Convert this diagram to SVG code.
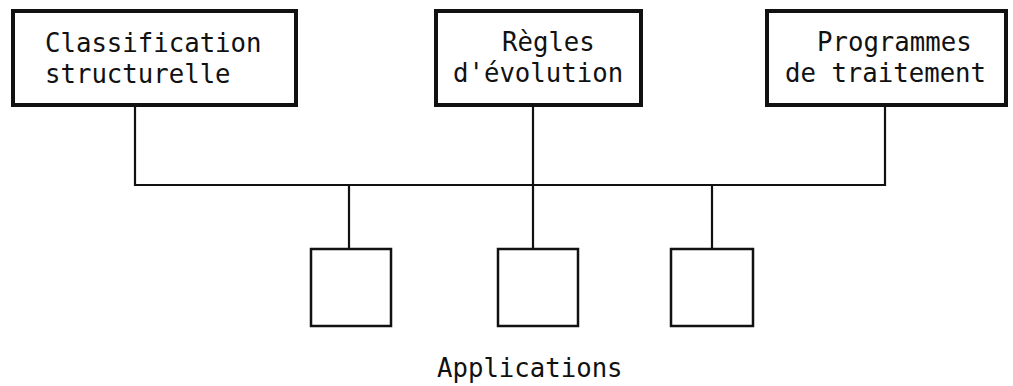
<svg xmlns="http://www.w3.org/2000/svg" width="1013" height="386" viewBox="0 0 1013 386">
<style>
.big{fill:#fff;stroke:#111;stroke-width:4}
.app{fill:#fff;stroke:#111;stroke-width:2.5}
.t{font-family:"DejaVu Sans Mono","Liberation Mono",monospace;font-size:25.7px;fill:#111}
.c{fill:none;stroke:#111;stroke-width:2.2}
</style>
<rect width="1013" height="386" fill="#fff"/>
<g id="connectors">
<path class="c" d="M135 105V185H885V105"/>
<path class="c" d="M533 105V249"/>
<path class="c" d="M349 185V249"/>
<path class="c" d="M712 185V249"/>
</g>
<g id="classification">
<rect class="big" x="13" y="11" width="283" height="94"/>
<text class="t" x="45" y="52">Classification</text>
<text class="t" x="45" y="83">structurelle</text>
</g>
<g id="regles">
<rect class="big" x="436" y="11" width="205" height="94"/>
<text class="t" x="502" y="51">Règles</text>
<text class="t" x="453" y="82">d'évolution</text>
</g>
<g id="programmes">
<rect class="big" x="767" y="11" width="239" height="94"/>
<text class="t" x="817" y="51">Programmes</text>
<text class="t" x="785" y="82">de traitement</text>
</g>
<g id="app1"><rect class="app" x="311" y="249" width="80" height="77"/></g>
<g id="app2"><rect class="app" x="498" y="249" width="80" height="77"/></g>
<g id="app3"><rect class="app" x="671" y="249" width="82" height="77"/></g>
<g id="applications-label">
<text class="t" x="437" y="377">Applications</text>
</g>
</svg>
